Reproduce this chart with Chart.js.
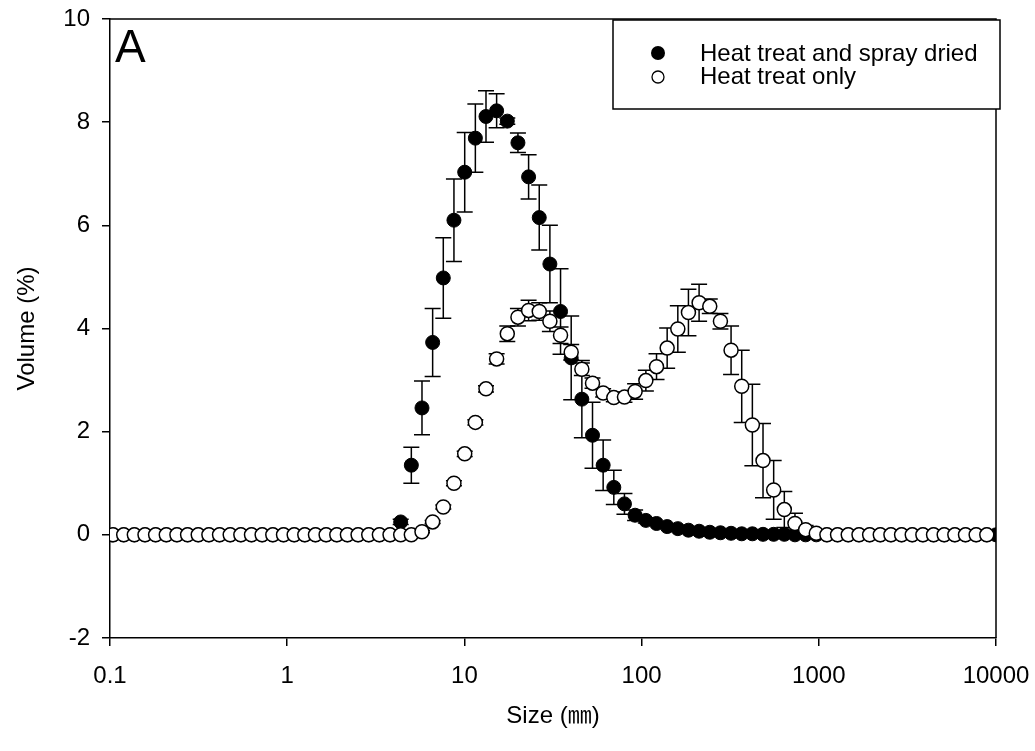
<!DOCTYPE html>
<html>
<head>
<meta charset="utf-8">
<script src="https://cdn.jsdelivr.net/npm/chart.js@4.4.0/dist/chart.umd.min.js"></script>
<style>
  html, body { margin: 0; padding: 0; background: #fff; }
</style>
</head>
<body>
<canvas id="sizeChart" width="1035" height="751"></canvas>
<script>
// particle size classes (um), log spaced
const sizes = [
  0.104, 0.1195, 0.1372, 0.1576, 0.1809, 0.2078, 0.2386, 0.2741, 0.3147, 0.3615, 0.4151, 0.4768,
  0.5475, 0.6288, 0.7221, 0.8293, 0.9533, 1.095, 1.257, 1.444, 1.658, 1.905, 2.187, 2.512,
  2.885, 3.313, 3.805, 4.370, 5.018, 5.763, 6.619, 7.601, 8.730, 10.04, 11.53, 13.24,
  15.20, 17.46, 20.05, 23.03, 26.45, 30.37, 34.88, 40.06, 46.01, 52.84, 60.68, 69.69,
  80.03, 91.91, 105.7, 121.4, 139.4, 160.1, 183.8, 211.1, 242.5, 278.5, 319.8, 367.3,
  421.8, 484.4, 556.3, 638.9, 733.7, 842.7, 967.8, 1111, 1276, 1466, 1686, 1936,
  2223, 2553, 2932, 3368, 3867, 4442, 5101, 5858, 6728, 7726, 8873, 10000
];

const sprayDried = [
  0, 0, 0, 0, 0, 0, 0, 0, 0, 0, 0, 0,
  0, 0, 0, 0, 0, 0, 0, 0, 0, 0, 0, 0,
  0, 0, 0, 0.25, 1.35, 2.46, 3.73, 4.98, 6.10, 7.03, 7.69, 8.11,
  8.22, 8.02, 7.60, 6.94, 6.15, 5.25, 4.33, 3.43, 2.63, 1.93, 1.35, 0.92,
  0.60, 0.38, 0.28, 0.22, 0.16, 0.12, 0.09, 0.07, 0.05, 0.04, 0.03, 0.02,
  0.02, 0.01, 0.01, 0.01, 0, 0, 0, 0, 0, 0, 0, 0,
  0, 0, 0, 0, 0, 0, 0, 0, 0, 0, 0, 0
];
const sprayDriedErr = [
  0, 0, 0, 0, 0, 0, 0, 0, 0, 0, 0, 0,
  0, 0, 0, 0, 0, 0, 0, 0, 0, 0, 0, 0,
  0, 0, 0, 0.05, 0.35, 0.52, 0.66, 0.78, 0.80, 0.77, 0.66, 0.50,
  0.33, 0.06, 0.19, 0.43, 0.63, 0.75, 0.83, 0.81, 0.75, 0.64, 0.49, 0.33,
  0.20, 0.10, 0.05, 0, 0, 0, 0, 0, 0, 0, 0, 0,
  0, 0, 0, 0, 0, 0, 0, 0, 0, 0, 0, 0,
  0, 0, 0, 0, 0, 0, 0, 0, 0, 0, 0, 0
];

const heatOnly = [
  0, 0, 0, 0, 0, 0, 0, 0, 0, 0, 0, 0,
  0, 0, 0, 0, 0, 0, 0, 0, 0, 0, 0, 0,
  0, 0, 0, 0, 0, 0.06, 0.25, 0.54, 1.00, 1.57, 2.18, 2.83,
  3.41, 3.90, 4.22, 4.35, 4.33, 4.14, 3.87, 3.54, 3.21, 2.94, 2.75, 2.66,
  2.67, 2.78, 2.99, 3.26, 3.62, 3.99, 4.31, 4.50, 4.43, 4.14, 3.58, 2.88,
  2.13, 1.44, 0.87, 0.49, 0.22, 0.10, 0.03, 0, 0, 0, 0, 0,
  0, 0, 0, 0, 0, 0, 0, 0, 0, 0, 0, null
];
const heatOnlyErr = [
  0, 0, 0, 0, 0, 0, 0, 0, 0, 0, 0, 0,
  0, 0, 0, 0, 0, 0, 0, 0, 0, 0, 0, 0,
  0, 0, 0, 0, 0, 0.02, 0.03, 0.04, 0.05, 0.05, 0.05, 0.06,
  0.10, 0.15, 0.17, 0.20, 0.17, 0.20, 0.16, 0.15, 0.12, 0.10, 0.08, 0.08,
  0.10, 0.15, 0.20, 0.25, 0.39, 0.45, 0.45, 0.36, 0.14, 0.15, 0.47, 0.70,
  0.79, 0.72, 0.57, 0.35, 0.20, 0.08, 0, 0, 0, 0, 0, 0,
  0, 0, 0, 0, 0, 0, 0, 0, 0, 0, 0, 0
];

const xTickValues = [0.1, 1, 10, 100, 1000, 10000];
const xTickLabels = ["0.1", "1", "10", "100", "1000", "10000"];
const seriesNames = ["Heat treat and spray dried", "Heat treat only"];

const FONT = "'Liberation Sans', Arial, 'Noto Sans CJK JP', sans-serif";

function points(vals) {
  return sizes.map((s, i) => ({ x: s, y: vals[i] }));
}

// vertical error bars with caps, drawn under the markers
const errorBars = {
  id: "errorBars",
  beforeDatasetsDraw(chart) {
    const { ctx, scales: { x, y } } = chart;
    ctx.save();
    ctx.strokeStyle = "#000";
    ctx.lineWidth = 1.5;
    chart.data.datasets.forEach((ds) => {
      ds.errors.forEach((e, i) => {
        const v = ds.data[i].y;
        if (!e || v == null) return;
        const px = x.getPixelForValue(ds.data[i].x);
        const top = y.getPixelForValue(v + e);
        const bot = y.getPixelForValue(v - e);
        ctx.beginPath();
        ctx.moveTo(px, top); ctx.lineTo(px, bot);
        ctx.moveTo(px - 8, top); ctx.lineTo(px + 8, top);
        ctx.moveTo(px - 8, bot); ctx.lineTo(px + 8, bot);
        ctx.stroke();
      });
    });
    ctx.restore();
  }
};

// frame, panel letter and boxed legend
const decorations = {
  id: "decorations",
  afterDraw(chart) {
    const { ctx, chartArea: a } = chart;
    ctx.save();
    ctx.strokeStyle = "#000";
    ctx.lineWidth = 1.5;
    ctx.beginPath();
    ctx.moveTo(a.left, a.top); ctx.lineTo(a.right, a.top); ctx.lineTo(a.right, a.bottom);
    ctx.stroke();

    ctx.fillStyle = "#000";
    ctx.font = "46px " + FONT;
    ctx.textBaseline = "alphabetic";
    ctx.fillText("A", a.left + 5, 62);

    // legend box
    ctx.fillStyle = "#fff";
    ctx.fillRect(613, 20, 387, 89);
    ctx.strokeRect(613, 20, 387, 89);

    ctx.fillStyle = "#000";
    ctx.beginPath(); ctx.arc(658, 53, 7, 0, Math.PI * 2); ctx.fill();
    ctx.fillStyle = "#fff"; ctx.lineWidth = 1.3;
    ctx.beginPath(); ctx.arc(658, 77, 6, 0, Math.PI * 2); ctx.fill(); ctx.stroke();

    ctx.fillStyle = "#000";
    ctx.font = "24px " + FONT;
    ctx.textBaseline = "alphabetic";
    ctx.fillText(seriesNames[0], 700, 61);
    ctx.fillText(seriesNames[1], 700, 84);
    ctx.restore();
  }
};

const axisCommon = {
  grid: { drawOnChartArea: false, drawTicks: true, tickLength: 8, color: "#000", lineWidth: 1.5 },
  border: { display: true, color: "#000", width: 1.5 }
};

new Chart(document.getElementById("sizeChart"), {
  type: "scatter",
  data: {
    datasets: [
      {
        label: seriesNames[1],
        data: points(heatOnly),
        errors: heatOnlyErr,
        pointRadius: 7,
        pointBackgroundColor: "#fff",
        pointBorderColor: "#000",
        pointBorderWidth: 1.5,
        order: 1,
      },
      {
        label: seriesNames[0],
        data: points(sprayDried),
        errors: sprayDriedErr,
        pointRadius: 7,
        pointBackgroundColor: "#000",
        pointBorderColor: "#000",
        pointBorderWidth: 1,
        order: 2,
      },
    ],
  },
  options: {
    responsive: false,
    animation: false,
    events: [],
    layout: { padding: { top: 19, right: 39, left: 0, bottom: 0 } },
    plugins: { legend: { display: false }, tooltip: { enabled: false } },
    scales: {
      x: {
        ...axisCommon,
        type: "logarithmic",
        min: 0.1,
        max: 10000,
        afterBuildTicks: (s) => { s.ticks = xTickValues.map((v) => ({ value: v })); },
        afterFit: (s) => { s.height = 113; s.paddingLeft = 0; s.paddingRight = 0; },
        ticks: {
          callback: (v, i) => xTickLabels[i],
          autoSkip: false, maxRotation: 0, minRotation: 0,
          padding: 16, color: "#000", font: { size: 24, family: FONT },
        },
        title: {
          display: true, text: "Size (㎜)", color: "#000",
          font: { size: 24, family: FONT }, padding: { top: 0, bottom: 20 },
        },
      },
      y: {
        ...axisCommon,
        min: -2,
        max: 10,
        afterFit: (s) => { s.width = 110; s.paddingTop = 0; s.paddingBottom = 0; },
        ticks: { stepSize: 2, padding: 12, color: "#000", font: { size: 24, family: FONT } },
        title: {
          display: true, text: "Volume (%)", color: "#000",
          font: { size: 24, family: FONT }, padding: { top: 13, bottom: 0 },
        },
      },
    },
  },
  plugins: [errorBars, decorations],
});
</script>
</body>
</html>
